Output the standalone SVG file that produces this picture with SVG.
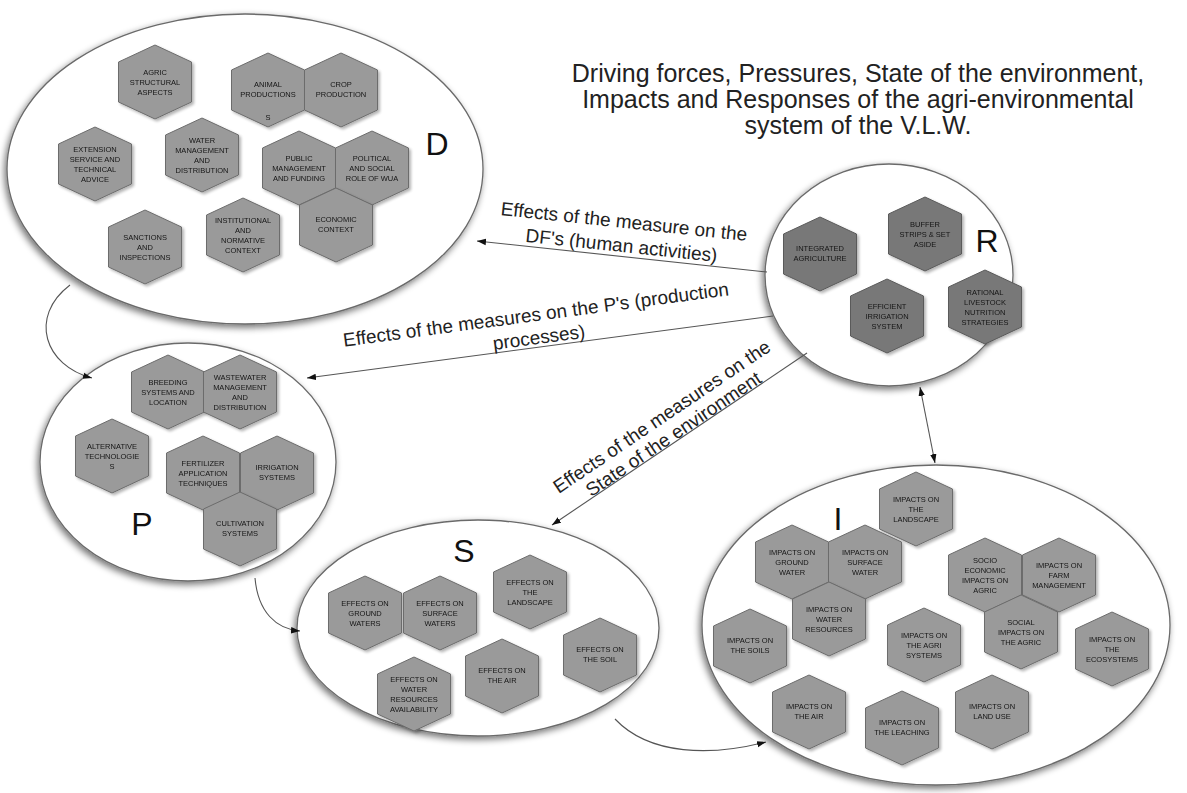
<svg xmlns="http://www.w3.org/2000/svg" xmlns:xlink="http://www.w3.org/1999/xlink" width="1187" height="793" viewBox="0 0 1187 793">
<style>
.ell{fill:#fff;stroke:#6a6a6a;stroke-width:1.3;filter:url(#esh)}
.hx{fill:#9a9a9a;stroke:#6c6c6c;stroke-width:1}
.hxd{fill:#787878;stroke:#5a5a5a;stroke-width:1}
.ht{font-family:"Liberation Sans",Arial,sans-serif;font-size:7.5px;fill:#151515;text-anchor:middle}
.big{font-family:"Liberation Sans",Arial,sans-serif;font-size:32px;fill:#111;text-anchor:middle}
.title{font-family:"Liberation Sans",Arial,sans-serif;font-size:25px;fill:#222;text-anchor:middle}
.lab{font-family:"Liberation Sans",Arial,sans-serif;font-size:19px;fill:#222;text-anchor:middle}
.con{fill:none;stroke:#555;stroke-width:1.1}
.hg{filter:url(#hsh)}
</style>
<defs>
<path id="hex" d="M0,-37 L36.5,-20 L36.5,20 L0,37 L-36.5,20 L-36.5,-20 Z"/>
<filter id="esh" x="-10%" y="-10%" width="120%" height="125%">
<feGaussianBlur in="SourceAlpha" stdDeviation="3.5"/>
<feOffset dx="-2" dy="3" result="o"/>
<feComponentTransfer><feFuncA type="linear" slope="0.55"/></feComponentTransfer>
<feMerge><feMergeNode/><feMergeNode in="SourceGraphic"/></feMerge>
</filter>
<filter id="hsh" x="-20%" y="-20%" width="140%" height="140%">
<feGaussianBlur in="SourceAlpha" stdDeviation="1.5"/>
<feOffset dx="1.5" dy="2"/>
<feComponentTransfer><feFuncA type="linear" slope="0.3"/></feComponentTransfer>
<feMerge><feMergeNode/><feMergeNode in="SourceGraphic"/></feMerge>
</filter>
<marker id="ah" markerWidth="10" markerHeight="8" refX="9" refY="4" orient="auto" markerUnits="userSpaceOnUse">
<path d="M0,0.8 L9,4 L0,7.2 Z" fill="#111"/>
</marker>
<marker id="ahs" markerWidth="10" markerHeight="8" refX="1" refY="4" orient="auto" markerUnits="userSpaceOnUse">
<path d="M10,0.8 L1,4 L10,7.2 Z" fill="#111"/>
</marker>
</defs>
<rect width="1187" height="793" fill="#fff"/>

<g id="title">
<text class="title" x="858" y="82">Driving forces, Pressures, State of the environment,</text>
<text class="title" x="858" y="108">Impacts and Responses of the agri-environmental</text>
<text class="title" x="858" y="134">system of the V.L.W.</text>
</g>

<!-- ellipses -->
<g id="ellipse-D"><ellipse class="ell" cx="245" cy="169" rx="238" ry="155"/></g>
<g id="ellipse-R"><ellipse class="ell" cx="889" cy="275" rx="124" ry="111"/></g>
<g id="ellipse-P"><ellipse class="ell" cx="188" cy="462" rx="148" ry="119"/></g>
<g id="ellipse-S"><ellipse class="ell" cx="478" cy="628" rx="181" ry="108"/></g>
<g id="ellipse-I"><ellipse class="ell" cx="936" cy="625" rx="234" ry="160"/></g>

<g id="connectors">
<line class="con" x1="767" y1="272" x2="477" y2="241" marker-end="url(#ah)"/>
<line class="con" x1="773" y1="316" x2="307" y2="378" marker-end="url(#ah)"/>
<line class="con" x1="807" y1="353" x2="552" y2="525" marker-end="url(#ah)"/>
<line class="con" x1="920" y1="387" x2="935" y2="463" marker-start="url(#ahs)" marker-end="url(#ah)"/>
<path class="con" d="M70,285 C28,317 45,366 92,378" marker-end="url(#ah)"/>
<path class="con" d="M255,578 C258,612 276,629 300,631" marker-end="url(#ah)"/>
<path class="con" d="M615,719 C650,756 712,756 766,742" marker-end="url(#ah)"/>
<g transform="translate(624,222) rotate(6)">
<text class="lab"><tspan x="0" y="6">Effects of the measure on the</tspan><tspan x="0" y="30">DF's (human activities)</tspan></text>
</g>
<g transform="translate(536,315) rotate(-7.6)">
<text class="lab"><tspan x="0" y="6">Effects of the measures on the P's (production</tspan><tspan x="0" y="29">processes)</tspan></text>
</g>
<g transform="translate(662,417) rotate(-34)">
<text class="lab"><tspan x="0" y="6">Effects of the measures on the</tspan><tspan x="0" y="27">State of the environment</tspan></text>
</g>
</g>

<!-- letters -->
<text id="label-D" class="big" x="437" y="155">D</text>
<text id="label-R" class="big" x="987" y="252">R</text>
<text id="label-P" class="big" x="142" y="535">P</text>
<text id="label-S" class="big" x="464" y="562">S</text>
<text id="label-I" class="big" x="838" y="530">I</text>

<!-- D nodes -->
<g id="d-agric" class="hg" transform="translate(155,82)"><use href="#hex" class="hx"/><text class="ht"><tspan x="0" y="-7.5">AGRIC</tspan><tspan x="0" y="2.5">STRUCTURAL</tspan><tspan x="0" y="12.5">ASPECTS</tspan></text></g>
<g id="d-animal" class="hg" transform="translate(268,90)"><use href="#hex" class="hx"/><text class="ht"><tspan x="0" y="-3">ANIMAL</tspan><tspan x="0" y="7">PRODUCTIONS</tspan><tspan x="0" y="30">S</tspan></text></g>
<g id="d-crop" class="hg" transform="translate(341,90)"><use href="#hex" class="hx"/><text class="ht"><tspan x="0" y="-3">CROP</tspan><tspan x="0" y="7">PRODUCTION</tspan></text></g>
<g id="d-extension" class="hg" transform="translate(95,164)"><use href="#hex" class="hx"/><text class="ht"><tspan x="0" y="-12.5">EXTENSION</tspan><tspan x="0" y="-2.5">SERVICE AND</tspan><tspan x="0" y="7.5">TECHNICAL</tspan><tspan x="0" y="17.5">ADVICE</tspan></text></g>
<g id="d-water" class="hg" transform="translate(202,155)"><use href="#hex" class="hx"/><text class="ht"><tspan x="0" y="-12.5">WATER</tspan><tspan x="0" y="-2.5">MANAGEMENT</tspan><tspan x="0" y="7.5">AND</tspan><tspan x="0" y="17.5">DISTRIBUTION</tspan></text></g>
<g id="d-public" class="hg" transform="translate(299,168)"><use href="#hex" class="hx"/><text class="ht"><tspan x="0" y="-7.5">PUBLIC</tspan><tspan x="0" y="2.5">MANAGEMENT</tspan><tspan x="0" y="12.5">AND FUNDING</tspan></text></g>
<g id="d-political" class="hg" transform="translate(372,168)"><use href="#hex" class="hx"/><text class="ht"><tspan x="0" y="-7.5">POLITICAL</tspan><tspan x="0" y="2.5">AND SOCIAL</tspan><tspan x="0" y="12.5">ROLE OF WUA</tspan></text></g>
<g id="d-economic" class="hg" transform="translate(336,225)"><use href="#hex" class="hx"/><text class="ht"><tspan x="0" y="-3">ECONOMIC</tspan><tspan x="0" y="7">CONTEXT</tspan></text></g>
<g id="d-institutional" class="hg" transform="translate(243,235)"><use href="#hex" class="hx"/><text class="ht"><tspan x="0" y="-12.5">INSTITUTIONAL</tspan><tspan x="0" y="-2.5">AND</tspan><tspan x="0" y="7.5">NORMATIVE</tspan><tspan x="0" y="17.5">CONTEXT</tspan></text></g>
<g id="d-sanctions" class="hg" transform="translate(145,247)"><use href="#hex" class="hx"/><text class="ht"><tspan x="0" y="-7.5">SANCTIONS</tspan><tspan x="0" y="2.5">AND</tspan><tspan x="0" y="12.5">INSPECTIONS</tspan></text></g>

<!-- R nodes -->
<g id="r-integrated" class="hg" transform="translate(820,254)"><use href="#hex" class="hxd"/><text class="ht"><tspan x="0" y="-3">INTEGRATED</tspan><tspan x="0" y="7">AGRICULTURE</tspan></text></g>
<g id="r-buffer" class="hg" transform="translate(925,234)"><use href="#hex" class="hxd"/><text class="ht"><tspan x="0" y="-7.5">BUFFER</tspan><tspan x="0" y="2.5">STRIPS &amp; SET</tspan><tspan x="0" y="12.5">ASIDE</tspan></text></g>
<g id="r-irrigation" class="hg" transform="translate(887,316)"><use href="#hex" class="hxd"/><text class="ht"><tspan x="0" y="-7.5">EFFICIENT</tspan><tspan x="0" y="2.5">IRRIGATION</tspan><tspan x="0" y="12.5">SYSTEM</tspan></text></g>
<g id="r-livestock" class="hg" transform="translate(985,307)"><use href="#hex" class="hxd"/><text class="ht"><tspan x="0" y="-12.5">RATIONAL</tspan><tspan x="0" y="-2.5">LIVESTOCK</tspan><tspan x="0" y="7.5">NUTRITION</tspan><tspan x="0" y="17.5">STRATEGIES</tspan></text></g>

<!-- P nodes -->
<g id="p-breeding" class="hg" transform="translate(168,392)"><use href="#hex" class="hx"/><text class="ht"><tspan x="0" y="-7.5">BREEDING</tspan><tspan x="0" y="2.5">SYSTEMS AND</tspan><tspan x="0" y="12.5">LOCATION</tspan></text></g>
<g id="p-wastewater" class="hg" transform="translate(240,392)"><use href="#hex" class="hx"/><text class="ht"><tspan x="0" y="-12.5">WASTEWATER</tspan><tspan x="0" y="-2.5">MANAGEMENT</tspan><tspan x="0" y="7.5">AND</tspan><tspan x="0" y="17.5">DISTRIBUTION</tspan></text></g>
<g id="p-alternative" class="hg" transform="translate(112,456)"><use href="#hex" class="hx"/><text class="ht"><tspan x="0" y="-7.5">ALTERNATIVE</tspan><tspan x="0" y="2.5">TECHNOLOGIE</tspan><tspan x="0" y="12.5">S</tspan></text></g>
<g id="p-fertilizer" class="hg" transform="translate(203,473)"><use href="#hex" class="hx"/><text class="ht"><tspan x="0" y="-7.5">FERTILIZER</tspan><tspan x="0" y="2.5">APPLICATION</tspan><tspan x="0" y="12.5">TECHNIQUES</tspan></text></g>
<g id="p-irrigation" class="hg" transform="translate(277,473)"><use href="#hex" class="hx"/><text class="ht"><tspan x="0" y="-3">IRRIGATION</tspan><tspan x="0" y="7">SYSTEMS</tspan></text></g>
<g id="p-cultivation" class="hg" transform="translate(240,529)"><use href="#hex" class="hx"/><text class="ht"><tspan x="0" y="-3">CULTIVATION</tspan><tspan x="0" y="7">SYSTEMS</tspan></text></g>

<!-- S nodes -->
<g id="s-ground" class="hg" transform="translate(365,613)"><use href="#hex" class="hx"/><text class="ht"><tspan x="0" y="-7.5">EFFECTS ON</tspan><tspan x="0" y="2.5">GROUND</tspan><tspan x="0" y="12.5">WATERS</tspan></text></g>
<g id="s-surface" class="hg" transform="translate(440,613)"><use href="#hex" class="hx"/><text class="ht"><tspan x="0" y="-7.5">EFFECTS ON</tspan><tspan x="0" y="2.5">SURFACE</tspan><tspan x="0" y="12.5">WATERS</tspan></text></g>
<g id="s-landscape" class="hg" transform="translate(530,592)"><use href="#hex" class="hx"/><text class="ht"><tspan x="0" y="-7.5">EFFECTS ON</tspan><tspan x="0" y="2.5">THE</tspan><tspan x="0" y="12.5">LANDSCAPE</tspan></text></g>
<g id="s-soil" class="hg" transform="translate(600,655)"><use href="#hex" class="hx"/><text class="ht"><tspan x="0" y="-3">EFFECTS ON</tspan><tspan x="0" y="7">THE SOIL</tspan></text></g>
<g id="s-air" class="hg" transform="translate(502,676)"><use href="#hex" class="hx"/><text class="ht"><tspan x="0" y="-3">EFFECTS ON</tspan><tspan x="0" y="7">THE AIR</tspan></text></g>
<g id="s-resources" class="hg" transform="translate(414,694)"><use href="#hex" class="hx"/><text class="ht"><tspan x="0" y="-12.5">EFFECTS ON</tspan><tspan x="0" y="-2.5">WATER</tspan><tspan x="0" y="7.5">RESOURCES</tspan><tspan x="0" y="17.5">AVAILABILITY</tspan></text></g>

<!-- I nodes -->
<g id="i-landscape" class="hg" transform="translate(916,509)"><use href="#hex" class="hx"/><text class="ht"><tspan x="0" y="-7.5">IMPACTS ON</tspan><tspan x="0" y="2.5">THE</tspan><tspan x="0" y="12.5">LANDSCAPE</tspan></text></g>
<g id="i-ground" class="hg" transform="translate(792,562)"><use href="#hex" class="hx"/><text class="ht"><tspan x="0" y="-7.5">IMPACTS ON</tspan><tspan x="0" y="2.5">GROUND</tspan><tspan x="0" y="12.5">WATER</tspan></text></g>
<g id="i-surface" class="hg" transform="translate(865,562)"><use href="#hex" class="hx"/><text class="ht"><tspan x="0" y="-7.5">IMPACTS ON</tspan><tspan x="0" y="2.5">SURFACE</tspan><tspan x="0" y="12.5">WATER</tspan></text></g>
<g id="i-resources" class="hg" transform="translate(829,619)"><use href="#hex" class="hx"/><text class="ht"><tspan x="0" y="-7.5">IMPACTS ON</tspan><tspan x="0" y="2.5">WATER</tspan><tspan x="0" y="12.5">RESOURCES</tspan></text></g>
<g id="i-soils" class="hg" transform="translate(750,646)"><use href="#hex" class="hx"/><text class="ht"><tspan x="0" y="-3">IMPACTS ON</tspan><tspan x="0" y="7">THE SOILS</tspan></text></g>
<g id="i-agrisystems" class="hg" transform="translate(924,645)"><use href="#hex" class="hx"/><text class="ht"><tspan x="0" y="-7.5">IMPACTS ON</tspan><tspan x="0" y="2.5">THE AGRI</tspan><tspan x="0" y="12.5">SYSTEMS</tspan></text></g>
<g id="i-socio" class="hg" transform="translate(985,575)"><use href="#hex" class="hx"/><text class="ht"><tspan x="0" y="-12.5">SOCIO</tspan><tspan x="0" y="-2.5">ECONOMIC</tspan><tspan x="0" y="7.5">IMPACTS ON</tspan><tspan x="0" y="17.5">AGRIC</tspan></text></g>
<g id="i-farm" class="hg" transform="translate(1059,575)"><use href="#hex" class="hx"/><text class="ht"><tspan x="0" y="-7.5">IMPACTS ON</tspan><tspan x="0" y="2.5">FARM</tspan><tspan x="0" y="12.5">MANAGEMENT</tspan></text></g>
<g id="i-social" class="hg" transform="translate(1021,632)"><use href="#hex" class="hx"/><text class="ht"><tspan x="0" y="-7.5">SOCIAL</tspan><tspan x="0" y="2.5">IMPACTS ON</tspan><tspan x="0" y="12.5">THE AGRIC</tspan></text></g>
<g id="i-ecosystems" class="hg" transform="translate(1112,649)"><use href="#hex" class="hx"/><text class="ht"><tspan x="0" y="-7.5">IMPACTS ON</tspan><tspan x="0" y="2.5">THE</tspan><tspan x="0" y="12.5">ECOSYSTEMS</tspan></text></g>
<g id="i-air" class="hg" transform="translate(809,712)"><use href="#hex" class="hx"/><text class="ht"><tspan x="0" y="-3">IMPACTS ON</tspan><tspan x="0" y="7">THE AIR</tspan></text></g>
<g id="i-leaching" class="hg" transform="translate(902,728)"><use href="#hex" class="hx"/><text class="ht"><tspan x="0" y="-3">IMPACTS ON</tspan><tspan x="0" y="7">THE LEACHING</tspan></text></g>
<g id="i-landuse" class="hg" transform="translate(992,712)"><use href="#hex" class="hx"/><text class="ht"><tspan x="0" y="-3">IMPACTS ON</tspan><tspan x="0" y="7">LAND USE</tspan></text></g>
</svg>
